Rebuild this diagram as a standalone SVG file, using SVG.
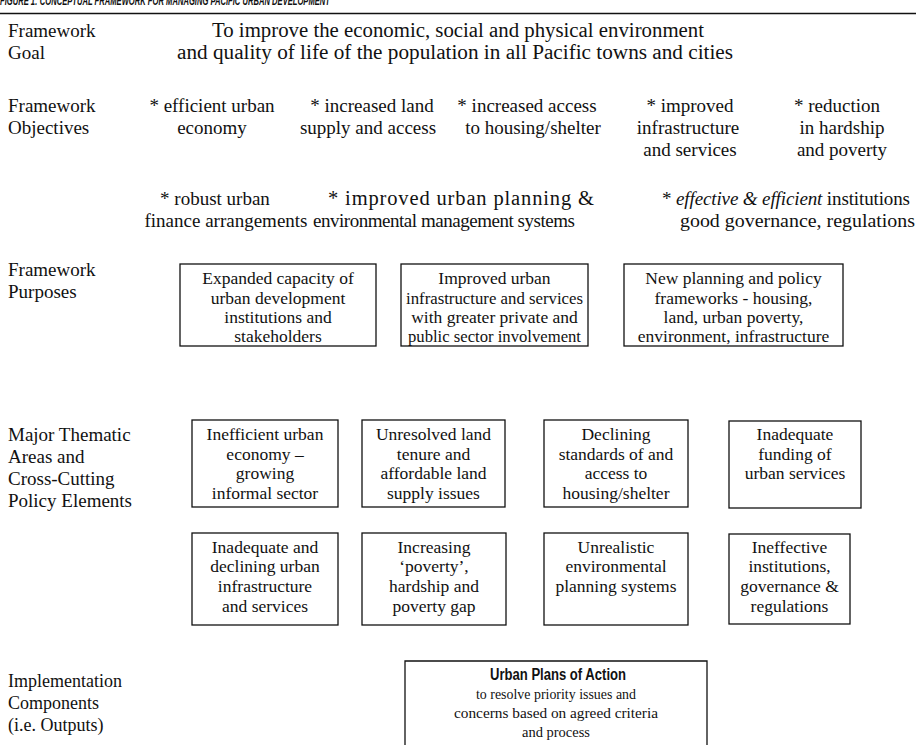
<svg xmlns="http://www.w3.org/2000/svg" width="916" height="745" viewBox="0 0 916 745">
<style>
  .bg { fill: #ffffff; }
  .lbl { font-family: "Liberation Serif", "Times New Roman", serif; font-size: 19px; fill: #111; }
  .obj { font-family: "Liberation Serif", "Times New Roman", serif; font-size: 19px; fill: #111; text-anchor: middle; }
  .goal { font-family: "Liberation Serif", "Times New Roman", serif; font-size: 20px; fill: #111; }
  .bt { font-family: "Liberation Serif", "Times New Roman", serif; font-size: 17.5px; fill: #111; text-anchor: middle; }
  .box { fill: none; stroke: #111; stroke-width: 1.3; }
  .title { font-family: "Liberation Sans", Arial, sans-serif; font-size: 12px; font-weight: bold; font-style: italic; fill: #111; }
  .impl { font-family: "Liberation Serif", "Times New Roman", serif; font-size: 18px; fill: #111; }
  .sub { font-family: "Liberation Serif", "Times New Roman", serif; font-size: 15.5px; fill: #111; }
  .head { font-family: "Liberation Sans", Arial, sans-serif; font-size: 16px; font-weight: bold; fill: #111; }
</style>
<rect class="bg" x="0" y="0" width="916" height="745"/>

<g id="title">
  <text class="title" x="0" y="5" textLength="330" lengthAdjust="spacingAndGlyphs">FIGURE 1: CONCEPTUAL FRAMEWORK FOR MANAGING PACIFIC URBAN DEVELOPMENT</text>
  <line x1="0" y1="13.5" x2="916" y2="13.5" stroke="#111" stroke-width="1.6"/>
</g>

<g id="row-labels">
  <text class="lbl" x="8" y="37">Framework</text>
  <text class="lbl" x="8" y="59">Goal</text>
  <text class="lbl" x="8" y="112">Framework</text>
  <text class="lbl" x="8" y="134">Objectives</text>
  <text class="lbl" x="8" y="276">Framework</text>
  <text class="lbl" x="8" y="298">Purposes</text>
  <text class="lbl" x="8" y="441">Major Thematic</text>
  <text class="lbl" x="8" y="463">Areas and</text>
  <text class="lbl" x="8" y="485">Cross-Cutting</text>
  <text class="lbl" x="8" y="507">Policy Elements</text>
  <text class="impl" x="8" y="687">Implementation</text>
  <text class="impl" x="8" y="709">Components</text>
  <text class="impl" x="8" y="731">(i.e. Outputs)</text>
</g>

<g id="goal">
  <text class="goal" x="212" y="37" textLength="492" lengthAdjust="spacingAndGlyphs">To improve the economic, social and physical environment</text>
  <text class="goal" x="177" y="59" textLength="556" lengthAdjust="spacingAndGlyphs">and quality of life of the population in all Pacific towns and cities</text>
</g>

<g id="obj-economy">
  <text class="obj" x="212" y="112">* efficient urban</text>
  <text class="obj" x="212" y="134">economy</text>
</g>
<g id="obj-land">
  <text class="obj" x="372" y="112">* increased land</text>
  <text class="obj" x="368" y="134">supply and access</text>
</g>
<g id="obj-housing">
  <text class="obj" x="527" y="112">* increased access</text>
  <text class="obj" x="533" y="134">to housing/shelter</text>
</g>
<g id="obj-infra">
  <text class="obj" x="690" y="112">* improved</text>
  <text class="obj" x="688" y="134">infrastructure</text>
  <text class="obj" x="690" y="156">and services</text>
</g>
<g id="obj-poverty">
  <text class="obj" x="837" y="112">* reduction</text>
  <text class="obj" x="842" y="134">in hardship</text>
  <text class="obj" x="842" y="156">and poverty</text>
</g>
<g id="obj-finance">
  <text class="obj" x="215" y="205">* robust urban</text>
  <text class="obj" x="226" y="227">finance arrangements</text>
</g>
<g id="obj-planning">
  <text class="lbl" x="328" y="205" style="font-size:20.5px" textLength="266" lengthAdjust="spacing">* improved urban planning &amp;</text>
  <text class="lbl" x="313" y="227" textLength="262" lengthAdjust="spacing">environmental management systems</text>
</g>
<g id="obj-institutions">
  <text class="lbl" x="662" y="205" textLength="248" lengthAdjust="spacing">* <tspan font-style="italic">effective &amp; efficient</tspan>  institutions</text>
  <text class="lbl" x="680" y="227" textLength="235" lengthAdjust="spacingAndGlyphs">good governance, regulations</text>
</g>

<g id="purpose-capacity">
  <rect class="box" x="180" y="264" width="196" height="82"/>
  <text class="bt" x="278" y="284">Expanded capacity of</text>
  <text class="bt" x="278" y="304">urban development</text>
  <text class="bt" x="278" y="323">institutions and</text>
  <text class="bt" x="278" y="342">stakeholders</text>
</g>
<g id="purpose-infrastructure">
  <rect class="box" x="401" y="264" width="187" height="82"/>
  <text class="bt" x="494.5" y="284">Improved urban</text>
  <text class="bt" x="494.5" y="304" textLength="177" lengthAdjust="spacingAndGlyphs">infrastructure and services</text>
  <text class="bt" x="494.5" y="323">with greater private and</text>
  <text class="bt" x="494.5" y="342" textLength="173" lengthAdjust="spacingAndGlyphs">public sector involvement</text>
</g>
<g id="purpose-frameworks">
  <rect class="box" x="624" y="264" width="219" height="82"/>
  <text class="bt" x="733.5" y="284">New planning and policy</text>
  <text class="bt" x="733.5" y="304">frameworks  - housing,</text>
  <text class="bt" x="733.5" y="323">land, urban poverty,</text>
  <text class="bt" x="733.5" y="342">environment, infrastructure</text>
</g>

<g id="theme-economy">
  <rect class="box" x="192" y="420" width="146" height="87"/>
  <text class="bt" x="265" y="440">Inefficient urban</text>
  <text class="bt" x="265" y="460">economy –</text>
  <text class="bt" x="265" y="479">growing</text>
  <text class="bt" x="265" y="499">informal sector</text>
</g>
<g id="theme-land">
  <rect class="box" x="362" y="420" width="143" height="87"/>
  <text class="bt" x="433.5" y="440">Unresolved land</text>
  <text class="bt" x="433.5" y="460">tenure and</text>
  <text class="bt" x="433.5" y="479">affordable land</text>
  <text class="bt" x="433.5" y="499">supply issues</text>
</g>
<g id="theme-housing">
  <rect class="box" x="544" y="420" width="144" height="87"/>
  <text class="bt" x="616" y="440">Declining</text>
  <text class="bt" x="616" y="460">standards of and</text>
  <text class="bt" x="616" y="479">access to</text>
  <text class="bt" x="616" y="499">housing/shelter</text>
</g>
<g id="theme-funding">
  <rect class="box" x="729" y="421" width="132" height="87"/>
  <text class="bt" x="795" y="440">Inadequate</text>
  <text class="bt" x="795" y="460">funding of</text>
  <text class="bt" x="795" y="479">urban services</text>
</g>
<g id="theme-infrastructure">
  <rect class="box" x="192" y="533" width="146" height="92"/>
  <text class="bt" x="265" y="553">Inadequate and</text>
  <text class="bt" x="265" y="572">declining urban</text>
  <text class="bt" x="265" y="592">infrastructure</text>
  <text class="bt" x="265" y="612">and services</text>
</g>
<g id="theme-poverty">
  <rect class="box" x="362" y="533" width="144" height="92"/>
  <text class="bt" x="434" y="553">Increasing</text>
  <text class="bt" x="434" y="572">‘poverty’,</text>
  <text class="bt" x="434" y="592">hardship and</text>
  <text class="bt" x="434" y="612">poverty gap</text>
</g>
<g id="theme-environment">
  <rect class="box" x="544" y="533" width="144" height="92"/>
  <text class="bt" x="616" y="553">Unrealistic</text>
  <text class="bt" x="616" y="572">environmental</text>
  <text class="bt" x="616" y="592">planning systems</text>
</g>
<g id="theme-institutions">
  <rect class="box" x="729" y="534" width="121" height="90"/>
  <text class="bt" x="789.5" y="553">Ineffective</text>
  <text class="bt" x="789.5" y="572">institutions,</text>
  <text class="bt" x="789.5" y="592">governance &amp;</text>
  <text class="bt" x="789.5" y="612">regulations</text>
</g>

<g id="output-plans">
  <path class="box" d="M405,745 V661 H707 V745"/>
  <text class="head" x="490" y="680" textLength="136" lengthAdjust="spacingAndGlyphs">Urban Plans of Action</text>
  <text class="sub" x="476" y="699" textLength="160" lengthAdjust="spacingAndGlyphs">to resolve priority issues and</text>
  <text class="sub" x="454" y="718" textLength="204" lengthAdjust="spacingAndGlyphs">concerns based on agreed criteria</text>
  <text class="sub" x="522" y="737" textLength="68" lengthAdjust="spacingAndGlyphs">and process</text>
</g>

<g id="connectors"></g>
</svg>
